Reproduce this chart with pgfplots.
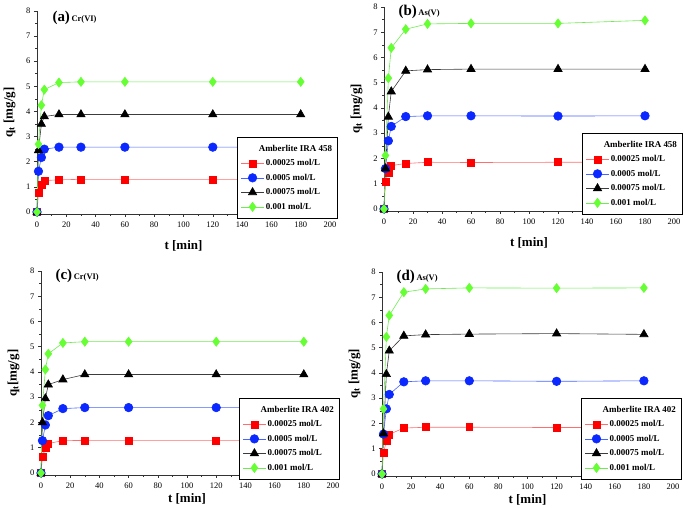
\documentclass[border=0pt]{standalone}
\usepackage{fontspec}
\setmainfont{Liberation Serif}
\usepackage{pgfplots}
\pgfplotsset{compat=1.18}
\definecolor{cred}{RGB}{255,0,0}
\definecolor{lred}{RGB}{255,110,110}
\definecolor{cblue}{RGB}{10,40,255}
\definecolor{lblue}{RGB}{70,100,255}
\definecolor{cgreen}{RGB}{102,255,51}
\definecolor{lgreen}{RGB}{110,235,80}
\definecolor{lblack}{RGB}{60,60,60}
\pgfplotsset{
  panel/.style={
    scale only axis, anchor=south west,
    xmin=0, xmax=200, ymin=-0.08, ymax=8,
    axis lines=left, axis line style={-, line width=0.8pt, black!80},
    xtick={0,20,...,200}, ytick={0,1,...,8},
    minor x tick num=1, minor y tick num=1,
    tick align=outside, major tick length=3bp, minor tick length=1.6bp,
    every tick/.style={line width=0.6pt, black!80},
    /pgf/number format/assume math mode=true,
    ticklabel style={font=\fontsize{8.5}{9}\selectfont},
    xticklabel style={yshift=-1bp},
    xlabel={t [min]},
    ylabel style={font=\fontsize{13}{13}\selectfont\bfseries, yshift=4bp},
    clip=false,
    legend cell align=left,
    legend style={draw=black, line width=0.6pt, fill=white, anchor=north west,
      font=\fontsize{9}{10}\selectfont\bfseries, row sep=3.6bp, inner xsep=3.5bp, inner ysep=6bp,
      nodes={inner sep=1.6bp}},
    legend image code/.code={\draw[mark repeat=2,mark phase=2] plot coordinates {(0cm,0cm) (0.4cm,0cm) (0.8cm,0cm)};},
  },
  highpanel/.style={xlabel style={font=\fontsize{13}{13}\selectfont\bfseries, yshift=-6bp}},
  lowpanel/.style={xlabel style={font=\fontsize{13}{13}\selectfont\bfseries, yshift=2bp}},
  sr/.style={color=lred, line width=0.6pt, mark=square*, mark size=3.5pt, mark options={fill=cred, draw=cred}},
  sb/.style={color=lblue, line width=0.6pt, mark=*, mark size=4.3pt, mark options={fill=cblue, draw=cblue}},
  sk/.style={color=lblack, line width=0.6pt, mark=triangle*, mark size=4.8pt, mark options={fill=black, draw=black}},
  sg/.style={color=lgreen, line width=0.6pt, mark=diamond*, mark size=4.6pt, mark options={fill=cgreen, draw=cgreen}},
}
\newcommand{\paneltitle}[2]{{\fontsize{15}{15}\selectfont\bfseries #1}\,{\fontsize{8.5}{8.5}\selectfont\bfseries #2}}
\begin{document}
\begin{tikzpicture}[x=1bp,y=1bp]
\useasboundingbox (0,0) rectangle (685,508);

% (a)
\begin{axis}[panel, highpanel, at={(37bp,294bp)}, width=293bp, height=203bp,
  ylabel={q\textsubscript{t} [mg/g]},
  legend style={at={(0.683,0.379)}}]
\addlegendimage{empty legend}\addlegendentry{\hspace*{-7bp}Amberlite IRA 458}
\addplot[sr] coordinates {(0,0) (1,0.75) (3,1.1) (5,1.25) (15,1.28) (30,1.3) (60,1.3) (120,1.3) (180,1.3)};
\addlegendentry{0.00025 mol/L}
\addplot[sb] coordinates {(0,0) (1,1.62) (3,2.17) (5,2.5) (15,2.58) (30,2.58) (60,2.58) (120,2.58) (180,2.58)};
\addlegendentry{0.0005 mol/L}
\addplot[sk] coordinates {(0,0) (1,2.45) (3,3.5) (5,3.8) (15,3.88) (30,3.88) (60,3.88) (120,3.88) (180,3.88)};
\addlegendentry{0.00075 mol/L}
\addplot[sg] coordinates {(0,0) (1,2.7) (3,4.25) (5,4.87) (15,5.15) (30,5.18) (60,5.18) (120,5.18) (180,5.18)};
\addlegendentry{0.001 mol/L}
\node[anchor=base west] at (rel axis cs:0.041,0.946) {\paneltitle{(a)}{Cr(VI)}};
\end{axis}

% (b)
\begin{axis}[panel, highpanel, at={(384bp,297bp)}, width=290bp, height=204bp,
  ylabel={q\textsubscript{t} [mg/g]},
  legend style={at={(0.683,0.382)}}]
\addlegendimage{empty legend}\addlegendentry{\hspace*{-7bp}Amberlite IRA 458}
\addplot[sr] coordinates {(0,0) (1,1.08) (3,1.45) (5,1.72) (15,1.8) (30,1.85) (60,1.84) (120,1.85) (180,1.85)};
\addlegendentry{0.00025 mol/L}
\addplot[sb] coordinates {(0,0) (1,1.6) (3,2.7) (5,3.27) (15,3.66) (30,3.69) (60,3.69) (120,3.68) (180,3.69)};
\addlegendentry{0.0005 mol/L}
\addplot[sk] coordinates {(0,0) (1,1.6) (3,3.65) (5,4.65) (15,5.47) (30,5.52) (60,5.54) (120,5.54) (180,5.54)};
\addlegendentry{0.00075 mol/L}
\addplot[sg] coordinates {(0,0) (1,2.12) (3,5.18) (5,6.38) (15,7.12) (30,7.33) (60,7.35) (120,7.35) (180,7.47)};
\addlegendentry{0.001 mol/L}
\node[anchor=base west] at (rel axis cs:0.038,0.956) {\paneltitle{(b)}{As(V)}};
\end{axis}

% (c)
\begin{axis}[panel, lowpanel, at={(41bp,33bp)}, width=292bp, height=204bp,
  ylabel={q\textsubscript{t}[mg/g]},
  legend style={at={(0.678,0.377)}}]
\addlegendimage{empty legend}\addlegendentry{\hspace*{-7bp}Amberlite IRA 402}
\addplot[sr] coordinates {(0,0) (1,0.65) (3,0.98) (5,1.17) (15,1.28) (30,1.29) (60,1.29) (120,1.29) (180,1.29)};
\addlegendentry{0.00025 mol/L}
\addplot[sb] coordinates {(0,0) (1,1.28) (3,1.9) (5,2.27) (15,2.55) (30,2.59) (60,2.59) (120,2.59) (180,2.59)};
\addlegendentry{0.0005 mol/L}
\addplot[sk] coordinates {(0,0) (1,2.0) (3,2.95) (5,3.5) (15,3.7) (30,3.9) (60,3.9) (120,3.9) (180,3.9)};
\addlegendentry{0.00075 mol/L}
\addplot[sg] coordinates {(0,0) (1,2.68) (3,4.1) (5,4.72) (15,5.15) (30,5.2) (60,5.2) (120,5.2) (180,5.2)};
\addlegendentry{0.001 mol/L}
\node[anchor=base west] at (rel axis cs:0.038,0.956) {\paneltitle{(c)}{Cr(VI)}};
\end{axis}

% (d)
\begin{axis}[panel, lowpanel, at={(382bp,32bp)}, width=291bp, height=204bp,
  ylabel={q\textsubscript{t} [mg/g]},
  legend style={at={(0.684,0.382)}}]
\addlegendimage{empty legend}\addlegendentry{\hspace*{-7bp}Amberlite IRA 402}
\addplot[sr] coordinates {(0,0) (1,0.85) (3,1.3) (5,1.57) (15,1.82) (30,1.85) (60,1.85) (120,1.84) (180,1.85)};
\addlegendentry{0.00025 mol/L}
\addplot[sb] coordinates {(0,0) (1,1.58) (3,2.58) (5,3.15) (15,3.65) (30,3.69) (60,3.69) (120,3.67) (180,3.69)};
\addlegendentry{0.0005 mol/L}
\addplot[sk] coordinates {(0,0) (1,1.6) (3,3.95) (5,4.88) (15,5.47) (30,5.52) (60,5.54) (120,5.56) (180,5.53)};
\addlegendentry{0.00075 mol/L}
\addplot[sg] coordinates {(0,0) (1,2.58) (3,5.43) (5,6.28) (15,7.2) (30,7.33) (60,7.37) (120,7.36) (180,7.37)};
\addlegendentry{0.001 mol/L}
\node[anchor=base west] at (rel axis cs:0.038,0.956) {\paneltitle{(d)}{As(V)}};
\end{axis}
\end{tikzpicture}
\end{document}
